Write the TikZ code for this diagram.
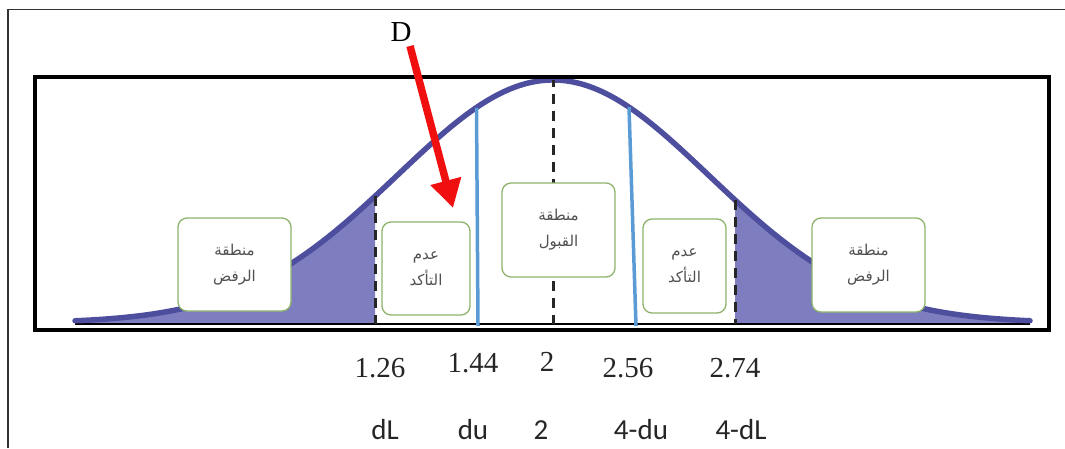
\documentclass[tikz,border=0pt]{standalone}
\usepackage{fontspec}
\setmainfont{Liberation Serif}
\newfontfamily\arabicfont[Script=Arabic]{DejaVu Sans}
\newfontfamily\labelfont{Carlito}
\TeXXeTstate=1
\usetikzlibrary{arrows.meta}
\definecolor{curveblue}{HTML}{4E4E9E}
\definecolor{tailfill}{HTML}{7D7DBF}
\definecolor{boxgreen}{HTML}{8DB36B}
\definecolor{lineblue}{HTML}{5B9BD5}
\definecolor{txtgray}{HTML}{505050}
\definecolor{arrowred}{HTML}{F01010}
\tikzset{
  region/.style={draw=boxgreen, line width=1.3pt, fill=white, rounded corners=9pt,
    align=center, inner sep=0pt, text=txtgray,
    font=\arabicfont\fontsize{15}{26}\selectfont},
  numlabel/.style={font=\fontsize{29}{29}\selectfont, text=black!85, anchor=center, inner sep=0pt},
  symlabel/.style={font=\labelfont\fontsize{29}{29}\selectfont, text=black!85, anchor=center, inner sep=0pt},
  dashv/.style={black!85, line width=3pt, dash pattern=on 10pt off 7pt},
  bluev/.style={lineblue, line width=3.5pt},
}
\pgfmathdeclarefunction{gcurve}{1}{\pgfmathparse{323-243*exp(-0.5*((#1-553)/156)^2)}}
\begin{document}
\begin{tikzpicture}[x=1pt,y=-1pt]
\useasboundingbox (0,0) rectangle (1065,448);
% outer frame (only top and left visible)
\draw[black!80, line width=1.5pt] (8,448) -- (8,9.5) -- (1065,9.5);
% shaded tails
\fill[tailfill] (75,323) -- plot[domain=75:375, samples=80] (\x,{gcurve(\x)}) -- (375,323) -- cycle;
\fill[tailfill] (735,323) -- plot[domain=735:1030, samples=80] (\x,{gcurve(\x)}) -- (1030,323) -- cycle;
% baseline
\draw[black, line width=2.5pt] (75,324) -- (1030,324);
% curve
\draw[curveblue, line width=5.5pt, line cap=round] plot[domain=75:1030, samples=240] (\x,{gcurve(\x)});
% vertical lines
\coordinate (dLtop) at (375,{gcurve(375)});
\coordinate (dLbot) at (375,324);
\coordinate (dUtop) at (735,{gcurve(735)});
\coordinate (dUbot) at (735,324);
\coordinate (ctop) at (553,80);
\coordinate (cbot) at (553,324);
\coordinate (b1top) at (476.5,{gcurve(476)});
\coordinate (b1bot) at (478,326);
\coordinate (b2top) at (629,{gcurve(629)});
\coordinate (b2bot) at (636,326);
\draw[dashv] (dLtop) -- (dLbot);
\draw[dashv] (dUtop) -- (dUbot);
\draw[dashv, dash phase=3pt] (ctop) -- (cbot);
\draw[bluev] (b1top) -- (b1bot);
\draw[bluev] (b2top) -- (b2bot);
% inner thick frame
\draw[black, line width=4pt] (35,77) rectangle (1049,330);
% region boxes
\node[region, minimum width=113pt, minimum height=93pt] (rejL) at (234.5,264.5)
  {\beginR منطقة\endR\\\beginR الرفض\endR};
\node[region, minimum width=88pt, minimum height=93pt] (uncL) at (426,268.5)
  {\beginR عدم\endR\\\beginR التأكد\endR};
\node[region, minimum width=113pt, minimum height=94pt] (acc) at (558.5,230)
  {\beginR منطقة\endR\\\beginR القبول\endR};
\node[region, minimum width=83pt, minimum height=94pt] (uncR) at (684.5,266)
  {\beginR عدم\endR\\\beginR التأكد\endR};
\node[region, minimum width=113pt, minimum height=94pt] (rejR) at (868.5,265)
  {\beginR منطقة\endR\\\beginR الرفض\endR};
% D label and red arrow
\node[font=\fontsize{29}{29}\selectfont, inner sep=0pt] (D) at (401,32) {D};
\coordinate (arrS) at (410,46);
\coordinate (arrE) at (453,208);
\draw[arrowred, line width=7.5pt, -{Triangle[length=28pt, width=30pt]}] (arrS) -- (arrE);
% numeric labels
\node[numlabel] (n1) at (380,368) {1.26};
\node[numlabel] (n2) at (473,363) {1.44};
\node[numlabel] (n3) at (547,362) {2};
\node[numlabel] (n4) at (628,368) {2.56};
\node[numlabel] (n5) at (735,368) {2.74};
% symbolic labels
\node[symlabel] (s1) at (385,430) {dL};
\node[symlabel] (s2) at (473,430) {du};
\node[symlabel] (s3) at (541,430) {2};
\node[symlabel] (s4) at (641,430) {4-du};
\node[symlabel] (s5) at (741,430) {4-dL};
\end{tikzpicture}
\end{document}
